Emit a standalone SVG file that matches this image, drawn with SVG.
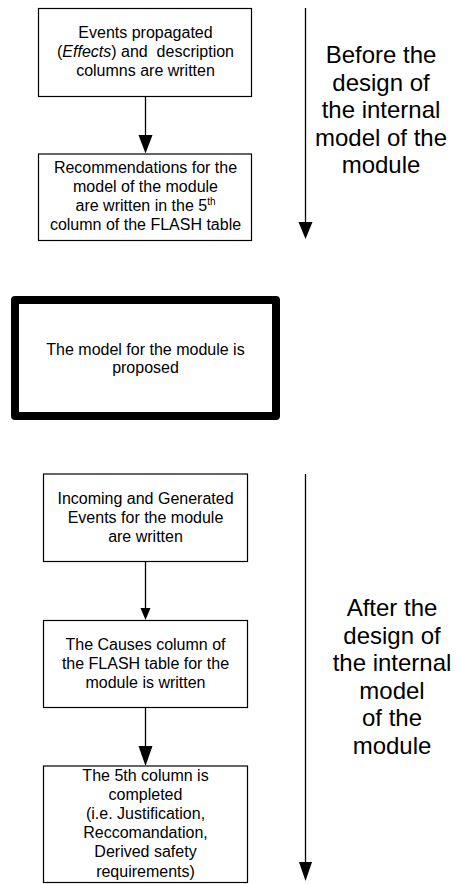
<svg xmlns="http://www.w3.org/2000/svg" width="461" height="884" viewBox="0 0 461 884">
  <style>
    .box{fill:#fff;stroke:#000;stroke-width:1.2}
    .thick{fill:#fff;stroke:#000;stroke-width:8;stroke-linejoin:round}
    .t{font-family:"Liberation Sans",Arial,Helvetica,sans-serif;font-size:16px;fill:#000;text-anchor:middle}
    .big{font-size:24px}
    .line{stroke:#000;stroke-width:1.3;fill:none}
    .head{fill:#000;stroke:none}
  </style>
  <rect width="461" height="884" fill="#fff"/>

  <!-- Phase 1: before the internal model is designed -->
  <g id="effects">
    <rect class="box" x="38.5" y="8.5" width="213" height="88"/>
    <text class="t" x="145.5" y="38">Events propagated</text>
    <text class="t" x="145.5" y="57" xml:space="preserve">(<tspan font-style="italic">Effects</tspan>) and  description</text>
    <text class="t" x="145.5" y="76">columns are written</text>
  </g>
  <g id="recommendations">
    <rect class="box" x="38.5" y="154" width="213" height="86.5"/>
    <text class="t" x="145.5" y="173.3">Recommendations for the</text>
    <text class="t" x="145.5" y="192.3">model of the module</text>
    <text class="t" x="145.5" y="211.3">are written in the 5<tspan font-size="10" dy="-6">th</tspan></text>
    <text class="t" x="145.5" y="230.3">column of the FLASH table</text>
  </g>
  <g id="label-before">
    <text class="t big" x="381" y="63">Before the</text>
    <text class="t big" x="381" y="90.5">design of</text>
    <text class="t big" x="381" y="118">the internal</text>
    <text class="t big" x="381" y="145.5">model of the</text>
    <text class="t big" x="381" y="173">module</text>
  </g>

  <!-- Milestone -->
  <g id="model-proposed">
    <rect class="thick" x="15" y="300" width="261" height="116"/>
    <text class="t" x="145.5" y="354.5">The model for the module is</text>
    <text class="t" x="145.5" y="373">proposed</text>
  </g>

  <!-- Phase 2: after the internal model is designed -->
  <g id="events">
    <rect class="box" x="43.5" y="474" width="204" height="87.5"/>
    <text class="t" x="145.5" y="503.5">Incoming and Generated</text>
    <text class="t" x="145.5" y="522.5">Events for the module</text>
    <text class="t" x="145.5" y="541.5">are written</text>
  </g>
  <g id="causes">
    <rect class="box" x="43.5" y="620.5" width="204" height="87"/>
    <text class="t" x="145.5" y="649.5">The Causes column of</text>
    <text class="t" x="145.5" y="668.5">the FLASH table for the</text>
    <text class="t" x="145.5" y="687.5">module is written</text>
  </g>
  <g id="fifth-column">
    <rect class="box" x="43.5" y="766" width="204" height="116.5"/>
    <text class="t" x="145.5" y="780.5">The 5th column is</text>
    <text class="t" x="145.5" y="799.7">completed</text>
    <text class="t" x="145.5" y="818.9">(i.e. Justification,</text>
    <text class="t" x="145.5" y="838.1">Reccomandation,</text>
    <text class="t" x="145.5" y="857.3">Derived safety</text>
    <text class="t" x="145.5" y="876.5">requirements)</text>
  </g>
  <g id="label-after">
    <text class="t big" x="392" y="616">After the</text>
    <text class="t big" x="392" y="643.5">design of</text>
    <text class="t big" x="392" y="671">the internal</text>
    <text class="t big" x="392" y="698.5">model</text>
    <text class="t big" x="392" y="726">of the</text>
    <text class="t big" x="392" y="753.5">module</text>
  </g>

  <g id="connectors">
    <!-- timeline arrows -->
    <line class="line" x1="305.5" y1="8" x2="305.5" y2="225"/>
    <polygon class="head" points="298.5,222 312.5,222 305.5,239"/>
    <line class="line" x1="305.5" y1="474" x2="305.5" y2="864"/>
    <polygon class="head" points="299,862 312,862 305.5,881"/>
    <!-- step arrows -->
    <line class="line" x1="145.5" y1="96.5" x2="145.5" y2="137"/>
    <polygon class="head" points="138.5,135 152.5,135 145.5,153.5"/>
    <line class="line" x1="145.5" y1="561.5" x2="145.5" y2="610"/>
    <polygon class="head" points="140.5,608 150.5,608 145.5,620"/>
    <line class="line" x1="145.5" y1="707.5" x2="145.5" y2="748"/>
    <polygon class="head" points="138.5,746 152.5,746 145.5,766"/>
  </g>
</svg>
